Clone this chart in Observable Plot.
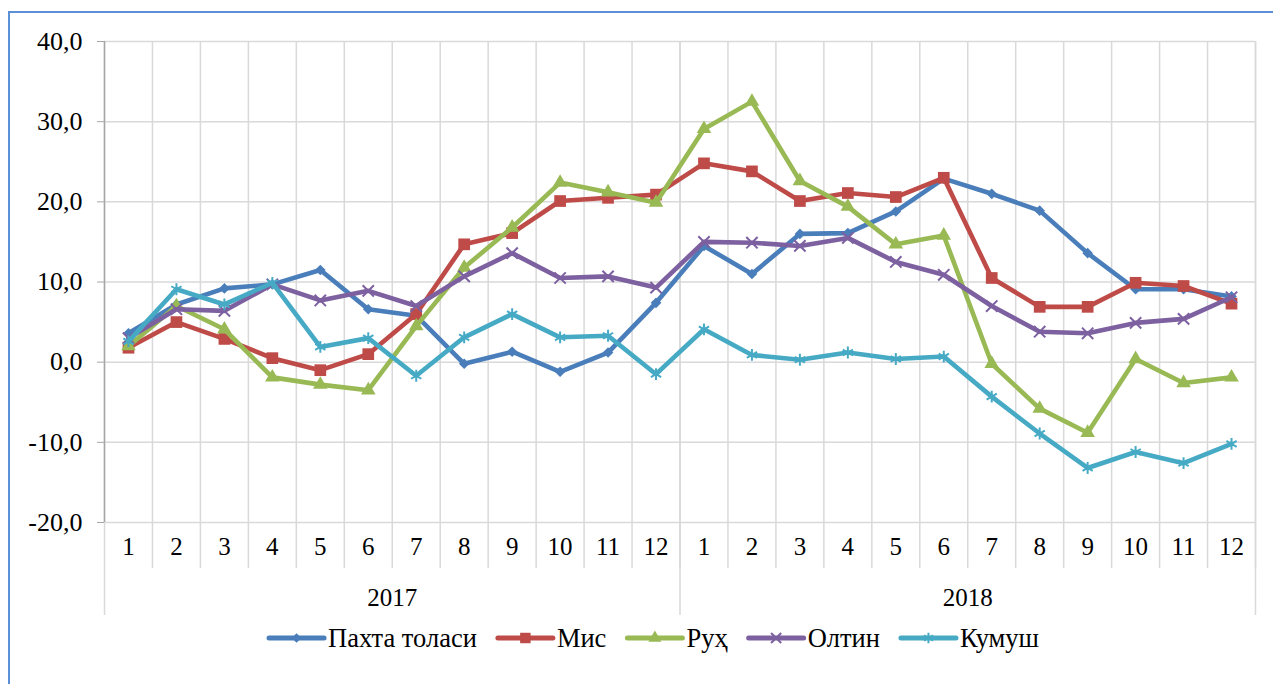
<!DOCTYPE html>
<html>
<head>
<meta charset="utf-8">
<script src="https://cdn.jsdelivr.net/npm/d3@7"></script>
<script src="https://cdn.jsdelivr.net/npm/@observablehq/plot@0.6"></script>
<style>
  html, body { margin: 0; padding: 0; background: #fff; overflow: hidden; }
  #wrap { position: relative; width: 1273px; height: 684px; }
  #border { position: absolute; left: 8px; top: 11px; width: 1300px; height: 700px;
            border-left: 2px solid #5b8fd8; border-top: 2px solid #5b8fd8; box-sizing: border-box; }
  #chart { position: absolute; left: 0; top: 0; }
  #legend { position: absolute; left: 0; top: 0; pointer-events: none; }
</style>
</head>
<body>
<div id="wrap">
  <div id="border"></div>
  <div id="chart"></div>
  <svg id="legend" width="1273" height="684"></svg>
</div>
<script>
// ---- data ----
const months = ["1","2","3","4","5","6","7","8","9","10","11","12","1","2","3","4","5","6","7","8","9","10","11","12"];
const years = ["2017", "2018"];
const seriesNames = ["Пахта толаси", "Мис", "Руҳ", "Олтин", "Кумуш"];
const pakhta = [3.6, 7.2, 9.2, 9.7, 11.5, 6.6, 5.8, -0.2, 1.3, -1.2, 1.2, 7.4, 14.5, 11.0, 16.0, 16.1, 18.8, 22.9, 21.0, 18.9, 13.6, 9.1, 9.1, 8.2];
const mis    = [1.8, 5.0, 2.9, 0.5, -1.0, 1.0, 6.0, 14.7, 16.1, 20.1, 20.5, 20.9, 24.8, 23.8, 20.1, 21.1, 20.6, 23.0, 10.5, 6.9, 6.9, 9.9, 9.5, 7.3];
const rukh   = [2.0, 7.0, 4.1, -1.9, -2.8, -3.5, 4.5, 11.8, 16.8, 22.4, 21.2, 19.9, 29.1, 32.5, 22.6, 19.4, 14.7, 15.8, -0.2, -5.8, -8.8, 0.4, -2.6, -1.9];
const oltin  = [3.0, 6.6, 6.4, 9.7, 7.7, 8.9, 7.0, 10.7, 13.6, 10.5, 10.7, 9.3, 15.0, 14.9, 14.5, 15.5, 12.5, 10.9, 7.0, 3.8, 3.6, 4.9, 5.4, 8.1];
const kumush = [2.6, 9.1, 7.2, 9.9, 1.9, 3.0, -1.7, 3.1, 6.0, 3.1, 3.3, -1.5, 4.1, 0.9, 0.3, 1.2, 0.4, 0.7, -4.3, -8.9, -13.2, -11.2, -12.6, -10.2];
const yTicks = [-20, -10, 0, 10, 20, 30, 40];

// ---- styles ----
const colors = ["#4a7ebb", "#be4b48", "#98b954", "#7d60a0", "#46aac5"];
const symbols = ["diamond2", "square", "triangle", "times", "asterisk"];
const symbolR = [4.8, 6.6, 5.4, 5.2, 5.6];
const filled = [true, true, true, false, false];
const values = [pakhta, mis, rukh, oltin, kumush];

const font = "'Times New Roman', 'Liberation Serif', serif";
const n = months.length;

const marks = [
  Plot.ruleY(yTicks, {stroke: "#d9d9d9", strokeWidth: 1.5}),
  Plot.ruleX(d3.range(1, n + 1), {stroke: "#d9d9d9", strokeWidth: 1.5, insetBottom: -46}),
  Plot.ruleX([0, 12, 24], {stroke: "#d9d9d9", strokeWidth: 1.5, insetBottom: -93}),
  Plot.ruleX([0], {stroke: "#a6a6a6", strokeWidth: 1.5}),
  Plot.axisY({ticks: yTicks, tickSize: 7, tickPadding: 15, stroke: "#a6a6a6", label: null,
               tickFormat: d => d.toFixed(1).replace(".", ","), fill: "#000", fontSize: 26}),
  Plot.text(months, {x: (d, i) => i + 0.5, text: d => d, frameAnchor: "bottom", dy: 32,
                     fontSize: 25, fill: "#000"}),
  Plot.text(years, {x: (d, i) => i * 12 + 6, text: d => d, frameAnchor: "bottom", dy: 83,
                    fontSize: 25, fill: "#000"})
];

values.forEach((vals, s) => {
  const rows = vals.map((v, i) => ({pos: i + 0.5, value: v}));
  marks.push(Plot.line(rows, {x: "pos", y: "value", stroke: colors[s], strokeWidth: 4.6,
                              strokeLinejoin: "round", strokeLinecap: "round"}));
  marks.push(Plot.dot(rows, filled[s]
    ? {x: "pos", y: "value", symbol: () => symbols[s], r: symbolR[s], fill: colors[s], stroke: "none"}
    : {x: "pos", y: "value", symbol: () => symbols[s], r: symbolR[s], fill: "none", stroke: colors[s], strokeWidth: 2}));
});

const chart = Plot.plot({
  width: 1273,
  height: 684,
  marginLeft: 104,
  marginRight: 18,
  marginTop: 41,
  marginBottom: 162,
  style: {fontFamily: font, fontSize: "25px", background: "transparent", color: "#000"},
  x: {type: "linear", domain: [0, n], axis: null, label: null},
  y: {domain: [-20, 40], axis: null, label: null},
  symbol: {type: "identity"},
  marks
});
document.getElementById("chart").appendChild(chart);

// ---- legend ----
const legend = d3.select("#legend");
const symMap = {diamond2: d3.symbolDiamond2, square: d3.symbolSquare, triangle: d3.symbolTriangle,
                times: d3.symbolTimes, asterisk: d3.symbolAsterisk};
const ly = 638, lineLen = 55, gapLT = 4, gapItem = 21;
const items = seriesNames.map((name, s) => {
  const g = legend.append("g");
  const t = g.append("text").text(name).attr("font-family", font).attr("font-size", 26.5)
    .attr("fill", "#000").attr("dy", "0.34em").attr("x", lineLen + gapLT);
  g.append("line").attr("x1", 0).attr("x2", lineLen).attr("y1", 0).attr("y2", 0)
    .attr("stroke", colors[s]).attr("stroke-width", 5).attr("stroke-linecap", "round");
  const sz = Math.PI * symbolR[s] * symbolR[s] * 0.8;
  g.append("path").attr("d", d3.symbol(symMap[symbols[s]], sz)())
    .attr("transform", `translate(${lineLen / 2},0)`)
    .attr("fill", filled[s] ? colors[s] : "none")
    .attr("stroke", filled[s] ? "none" : colors[s]).attr("stroke-width", 2);
  return {g, w: lineLen + gapLT + t.node().getComputedTextLength()};
});
const total = d3.sum(items, d => d.w) + gapItem * (items.length - 1);
let x0 = 654 - total / 2;
items.forEach(it => { it.g.attr("transform", `translate(${x0},${ly})`); x0 += it.w + gapItem; });
</script>
</body>
</html>
